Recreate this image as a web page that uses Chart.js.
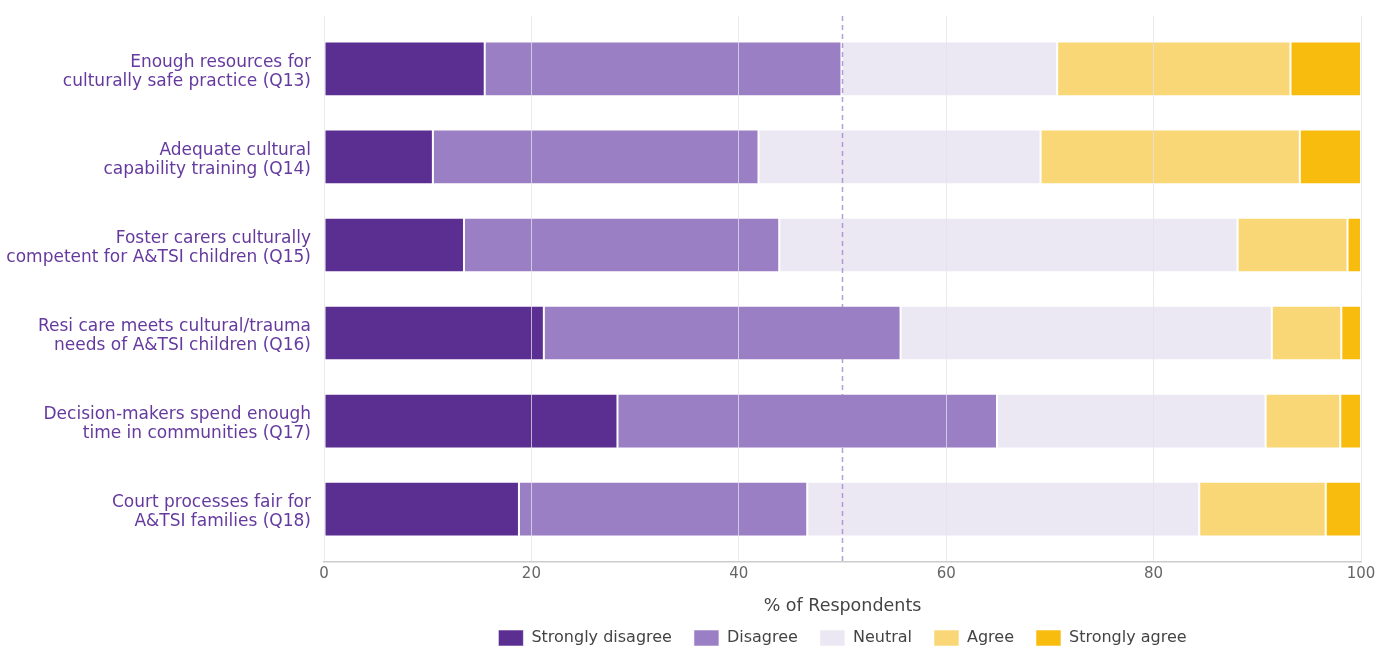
<!DOCTYPE html>
<html>
<head>
<meta charset="utf-8">
<script src="https://cdn.jsdelivr.net/npm/chart.js@4"></script>
<style>
  html, body { margin: 0; padding: 0; background: #fff; overflow: hidden; }
  #wrap { width: 1390px; height: 646px; }
</style>
</head>
<body>
<div id="wrap"><canvas id="c"></canvas></div>
<script>
const QUESTIONS = [
  ["Enough resources for", "culturally safe practice (Q13)"],
  ["Adequate cultural", "capability training (Q14)"],
  ["Foster carers culturally", "competent for A&TSI children (Q15)"],
  ["Resi care meets cultural/trauma", "needs of A&TSI children (Q16)"],
  ["Decision-makers spend enough", "time in communities (Q17)"],
  ["Court processes fair for", "A&TSI families (Q18)"],
];
const STRONGLY_DISAGREE = [15.5, 10.5, 13.5, 21.2, 28.3, 18.8];
const DISAGREE          = [34.4, 31.4, 30.4, 34.4, 36.6, 27.8];
const NEUTRAL           = [20.8, 27.2, 44.2, 35.8, 25.9, 37.8];
const AGREE             = [22.5, 25.0, 10.6, 6.7, 7.2, 12.2];
const STRONGLY_AGREE    = [6.8, 5.9, 1.3, 1.9, 2.0, 3.4];
const X_TICKS = [0, 20, 40, 60, 80, 100];
const MIDLINE = 50;

const FONT = "'DejaVu Sans', sans-serif";

const series = [
  { label: "Strongly disagree", data: STRONGLY_DISAGREE, color: "#5b2e91" },
  { label: "Disagree", data: DISAGREE, color: "#9b7fc4" },
  { label: "Neutral", data: NEUTRAL, color: "#ece8f3" },
  { label: "Agree", data: AGREE, color: "#fad776" },
  { label: "Strongly agree", data: STRONGLY_AGREE, color: "#f8bc0e" },
];

// dashed reference line at the 50% mark, on top of the bars
const midline = {
  id: "midline",
  afterDatasetsDraw(chart) {
    const { ctx, chartArea, scales } = chart;
    const x = scales.x.getPixelForValue(MIDLINE);
    ctx.save();
    ctx.strokeStyle = "rgba(150,130,195,0.75)";
    ctx.lineWidth = 1.5;
    ctx.setLineDash([5, 4]);
    ctx.beginPath();
    ctx.moveTo(x, chartArea.top);
    ctx.lineTo(x, chartArea.bottom);
    ctx.stroke();
    ctx.restore();
  },
};

new Chart(document.getElementById("c"), {
  type: "bar",
  data: {
    datasets: series.map((s) => ({
      label: s.label,
      data: s.data.map((v, i) => ({ x: v, y: i })),
      backgroundColor: s.color,
      borderColor: "rgba(255,255,255,0.55)",
      borderWidth: 1,
      borderSkipped: false,
      barPercentage: 0.62,
      categoryPercentage: 1,
    })),
  },
  options: {
    indexAxis: "y",
    responsive: true,
    maintainAspectRatio: false,
    animation: false,
    layout: { padding: { left: 7, right: 29, top: 16, bottom: -10 } },
    scales: {
      x: {
        type: "linear",
        stacked: true,
        min: 0,
        max: 100,
        afterBuildTicks: (s) => { s.ticks = X_TICKS.map((v) => ({ value: v })); },
        grid: { color: "rgba(226,226,236,0.75)", lineWidth: 1, z: 1, drawTicks: false },
        border: { color: "#cccccc", width: 1.5, z: 1 },
        ticks: { color: "#666", font: { family: FONT, size: 15 }, padding: 3 },
        title: {
          display: true,
          text: "% of Respondents",
          color: "#444",
          font: { family: FONT, size: 17.5 },
          padding: { top: 10, bottom: -9 },
        },
      },
      y: {
        type: "linear",
        stacked: true,
        reverse: true,
        offset: false,
        min: -0.6,
        max: 5.6,
        afterBuildTicks: (s) => { s.ticks = QUESTIONS.map((q, i) => ({ value: i })); },
        afterFit: (s) => {
          s.width = 317;
          s.paddingTop = 0;
          s.paddingBottom = 0;
        },
        grid: { display: false, drawTicks: false, offset: false },
        border: { display: false },
        ticks: {
          autoSkip: false,
          color: "#653a9e",
          font: { family: FONT, size: 17, lineHeight: 1.12 },
          padding: 13,
          labelOffset: 3,
          callback: (v) => QUESTIONS[v],
        },
      },
    },
    plugins: {
      legend: {
        position: "bottom",
        fullSize: false,
        labels: {
          color: "#444",
          font: { family: FONT, size: 16 },
          boxWidth: 25,
          boxHeight: 16,
          padding: 22,
        },
      },
      tooltip: { enabled: false },
    },
  },
  plugins: [midline],
});
</script>
</body>
</html>
